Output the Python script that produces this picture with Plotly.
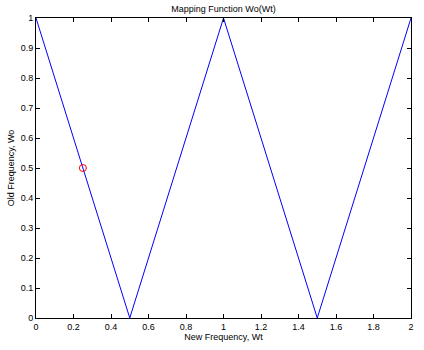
import plotly.graph_objects as go

wt = [0, 0.5, 1, 1.5, 2]
wo = [1, 0, 1, 0, 1]
pt_x = [0.25]
pt_y = [0.5]

fig = go.Figure()
fig.add_trace(go.Scatter(x=wt, y=wo, mode="lines",
                         line=dict(color="#0000ff", width=1), showlegend=False))
fig.add_trace(go.Scatter(x=pt_x, y=pt_y, mode="markers",
                         marker=dict(symbol="circle-open", color="#ff0000", size=7,
                                     line=dict(width=1, color="#ff0000")),
                         showlegend=False))

axis_common = dict(showgrid=False, zeroline=False, showline=True, linecolor="#000000",
                   linewidth=1, mirror="ticks", ticks="inside", ticklen=4,
                   tickcolor="#000000", tickfont=dict(family="Liberation Sans, Arial", size=9, color="#000000"))

fig.update_layout(
    width=424, height=350,
    margin=dict(l=34, r=10, t=18, b=31),
    paper_bgcolor="white", plot_bgcolor="white",
    title=dict(text="Mapping Function Wo(Wt)", x=0.5, xanchor="center", xref="paper",
               y=1 - 9/350, yanchor="middle",
               font=dict(family="Liberation Sans, Arial", size=9, color="#000000")),
    xaxis=dict(range=[0, 2], tickmode="array",
               tickvals=[0, 0.2, 0.4, 0.6, 0.8, 1, 1.2, 1.4, 1.6, 1.8, 2],
               ticktext=["0", "0.2", "0.4", "0.6", "0.8", "1", "1.2", "1.4", "1.6", "1.8", "2"],
               title=dict(text="New Frequency, Wt", standoff=2,
                          font=dict(family="Liberation Sans, Arial", size=9, color="#000000")),
               **axis_common),
    yaxis=dict(range=[0, 1], tickmode="array",
               tickvals=[0, 0.1, 0.2, 0.3, 0.4, 0.5, 0.6, 0.7, 0.8, 0.9, 1],
               ticktext=["0", "0.1", "0.2", "0.3", "0.4", "0.5", "0.6", "0.7", "0.8", "0.9", "1"],
               title=dict(text="Old Frequency, Wo", standoff=4,
                          font=dict(family="Liberation Sans, Arial", size=9, color="#000000")),
               **axis_common),
)

fig.write_html("out.html")
